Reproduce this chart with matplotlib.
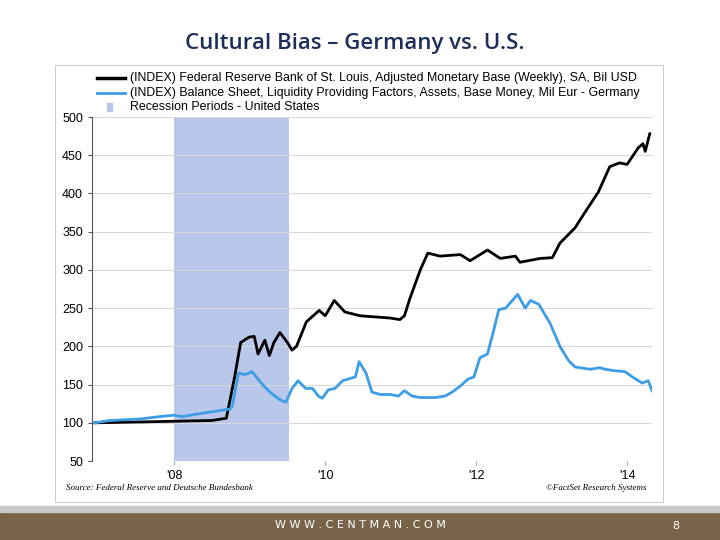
import matplotlib
matplotlib.use("Agg")
import matplotlib.pyplot as plt
from matplotlib.patches import Rectangle

us_years = [2006.95,2007.5,2008.0,2008.5,2008.69,2008.8,2008.88,2008.99,2009.06,2009.11,2009.2,2009.26,2009.32,2009.4,2009.5,2009.56,2009.62,2009.75,2009.92,2010.0,2010.12,2010.26,2010.46,2010.86,2010.99,2011.05,2011.12,2011.26,2011.36,2011.52,2011.79,2011.92,2012.15,2012.32,2012.52,2012.58,2012.85,2013.01,2013.11,2013.31,2013.44,2013.62,2013.77,2013.9,2014.0,2014.15,2014.21,2014.24,2014.3]
us_vals = [100,101,102,103,106,160,205,212,213,190,208,188,205,218,205,195,200,232,247,240,260,245,240,237,235,240,262,300,322,318,320,312,326,315,318,310,315,316,335,355,375,402,435,440,438,460,465,455,478]
de_years = [2006.95,2007.15,2007.55,2007.8,2008.0,2008.1,2008.34,2008.54,2008.74,2008.77,2008.85,2008.94,2009.03,2009.17,2009.27,2009.4,2009.48,2009.56,2009.64,2009.74,2009.83,2009.91,2009.96,2010.04,2010.13,2010.23,2010.33,2010.4,2010.45,2010.54,2010.62,2010.73,2010.86,2010.97,2011.05,2011.15,2011.26,2011.46,2011.59,2011.68,2011.79,2011.89,2011.97,2012.05,2012.15,2012.23,2012.3,2012.39,2012.48,2012.55,2012.65,2012.72,2012.83,2012.92,2012.98,2013.11,2013.22,2013.31,2013.51,2013.64,2013.71,2013.84,2013.97,2014.07,2014.2,2014.28,2014.33]
de_vals = [100,103,105,108,110,108,112,115,118,122,165,163,167,150,140,130,127,145,155,145,145,135,132,143,145,155,158,160,180,165,140,137,137,135,142,135,133,133,135,140,148,157,160,185,190,220,248,250,260,268,250,260,255,240,230,200,182,173,170,172,170,168,167,160,152,155,142]
recession = (2008.0, 2009.52)
x_ticks = [2008, 2010, 2012, 2014]
x_labels = ["'08", "'10", "'12", "'14"]
y_ticks = [50,100,150,200,250,300,350,400,450,500]

fig = plt.figure(figsize=(7.2,5.4), dpi=100)
fig.patch.set_facecolor("white")
fig.patches.append(Rectangle((0,0),1,28/540,transform=fig.transFigure,color="#7a6449",zorder=-5))
fig.patches.append(Rectangle((0,28/540),1,6/540,transform=fig.transFigure,color="#c8c8c8",zorder=-5))
fig.patches.append(Rectangle((55/720,1-502/540),608/720,437/540,transform=fig.transFigure,
                             facecolor="white",edgecolor="#cccccc",lw=0.8,zorder=-5))
fig.text(0.5,15/540,"W W W . C E N T M A N . C O M",ha="center",va="center",color="white",fontsize=8)
fig.text(676/720,14/540,"8",ha="center",va="center",color="white",fontsize=8)
fig.text(355/720,1-43/540,"Cultural Bias – Germany vs. U.S.",ha="center",va="center",
         fontsize=16,color="#1f2d5a",family="Open Sans",weight="semibold")

ax = fig.add_axes([92/720,1-461/540,560/720,344/540],zorder=5)
ax.axvspan(*recession,color="#b9c7ea",lw=0,zorder=1)
ax.plot(us_years,us_vals,color="black",lw=2,zorder=3)
ax.plot(de_years,de_vals,color="#3d9ee6",lw=2,zorder=3)
ax.set_xlim(2006.91,2014.33)
ax.set_ylim(50,500)
ax.set_yticks(y_ticks)
ax.set_xticks(x_ticks)
ax.set_xticklabels(x_labels)
ax.grid(axis="y",color="#d9d9d9",lw=0.8,zorder=0)
for s in ["top","right","bottom"]:
    ax.spines[s].set_visible(False)
ax.spines["left"].set_color("#555555")
ax.tick_params(axis="y",labelsize=9,length=3,color="#555555")
ax.tick_params(axis="x",labelsize=9,length=3,color="#aaaaaa")
for lab in ax.get_xticklabels()+ax.get_yticklabels():
    lab.set_family("Liberation Sans")

fs=8.9
ly=[1-78/540,1-93/540,1-107/540]
fig.add_artist(plt.Line2D([97/720,125/720],[ly[0]]*2,color="black",lw=2.5))
fig.add_artist(plt.Line2D([97/720,125/720],[ly[1]]*2,color="#3d9ee6",lw=2))
fig.patches.append(Rectangle((107/720,ly[2]-4/540),5/720,8/540,transform=fig.transFigure,color="#b9c7ea"))
texts=["(INDEX) Federal Reserve Bank of St. Louis, Adjusted Monetary Base (Weekly), SA, Bil USD",
       "(INDEX) Balance Sheet, Liquidity Providing Factors, Assets, Base Money, Mil Eur - Germany",
       "Recession Periods - United States"]
for t,y in zip(texts,ly):
    fig.text(130/720,y,t,va="center",fontsize=fs,family="Liberation Sans")
fig.text(66/720,1-488/540,"Source: Federal Reserve and Deutsche Bundesbank",fontsize=6.5,style="italic",
         family="Liberation Serif",va="center")
fig.text(646/720,1-488/540,"©FactSet Research Systems",fontsize=6.5,style="italic",
         family="Liberation Serif",va="center",ha="right")
fig.savefig("out.png",dpi=100)
